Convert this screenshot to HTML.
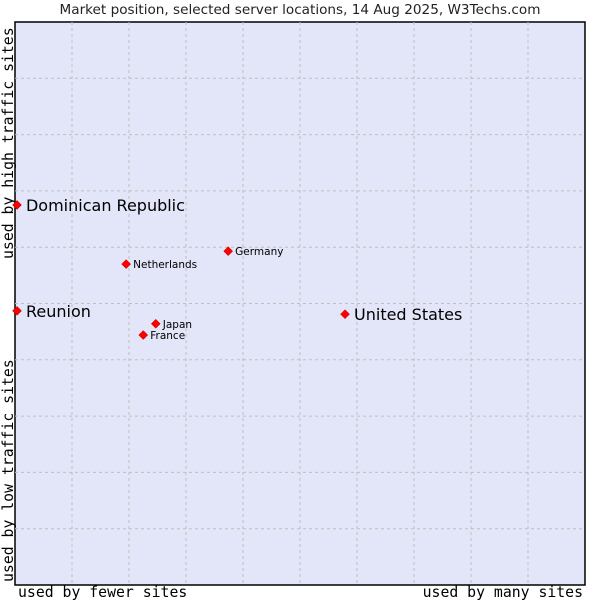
<!DOCTYPE html>
<html><head><meta charset="utf-8"><style>
body{margin:0;background:#fff;width:600px;height:600px;overflow:hidden}
svg text{font-family:"DejaVu Sans","Liberation Sans",sans-serif}
.mono{font-family:"DejaVu Sans Mono","Liberation Mono",monospace}
</style></head><body>
<svg id="chart" width="600" height="600" xmlns="http://www.w3.org/2000/svg">
<text x="300" y="14" text-anchor="middle" font-size="13.6" fill="#222" style="font-family:'DejaVu Sans',sans-serif">Market position, selected server locations, 14 Aug 2025, W3Techs.com</text>
<rect x="15" y="22" width="570" height="563" fill="#e3e5f8" stroke="#000" stroke-width="1.5"/>
<g id="grid"></g>
<text class="mono" x="18" y="597" font-size="14.8">used by fewer sites</text>
<text class="mono" x="583" y="597" font-size="14.8" text-anchor="end">used by many sites</text>
<text class="mono" transform="translate(13,259) rotate(-90)" font-size="14.8">used by high traffic sites</text>
<text class="mono" transform="translate(13,582) rotate(-90)" font-size="14.8">used by low traffic sites</text>
<g id="points"></g>
</svg>
<script>
const names=["Dominican Republic","Reunion","United States","Netherlands","Germany","Japan","France"];
const xVals=[0.35,0.35,57.9,19.5,37.4,24.7,22.5];
const yVals=[67.5,48.7,48.1,57,59.3,46.4,44.4];
const bigLabel=[true,true,true,false,false,false,false];
const NS="http://www.w3.org/2000/svg";
const X0=15,X1=585,Y0=585,Y1=22;
function sx(v){return X0+v/100*(X1-X0);}
function sy(v){return Y0-v/100*(Y0-Y1);}
const grid=document.getElementById('grid');
for(let i=1;i<10;i++){
  const l=document.createElementNS(NS,'line');
  
  
  l.setAttribute('x1',sx(i*10));l.setAttribute('x2',sx(i*10));l.setAttribute('y1',Y1);l.setAttribute('y2',Y0);
  l.setAttribute('stroke','#c0c0c0');l.setAttribute('stroke-dasharray','3,3');grid.appendChild(l);
  const h=document.createElementNS(NS,'line');
  
  
  h.setAttribute('x1',X0);h.setAttribute('x2',X1);h.setAttribute('y1',sy(i*10));h.setAttribute('y2',sy(i*10));
  h.setAttribute('stroke','#c0c0c0');h.setAttribute('stroke-dasharray','3,3');grid.appendChild(h);
}
const pts=document.getElementById('points');
names.forEach((n,i)=>{
  const x=sx(xVals[i]),y=sy(yVals[i]);
  const d=document.createElementNS(NS,'path');
  
  
  d.setAttribute('d',`M${x} ${y-4.5}L${x+4.5} ${y}L${x} ${y+4.5}L${x-4.5} ${y}Z`);
  d.setAttribute('fill','#f00');d.setAttribute('stroke','#a00');d.setAttribute('stroke-width','0.5');
  pts.appendChild(d);
  const t=document.createElementNS(NS,'text');
  
  
  t.setAttribute('x',x+(bigLabel[i]?9:7));t.setAttribute('y',y+(bigLabel[i]?6:4));
  t.setAttribute('font-size',bigLabel[i]?'16':'10.5');
  t.textContent=n;pts.appendChild(t);
});
</script>
</body></html>
